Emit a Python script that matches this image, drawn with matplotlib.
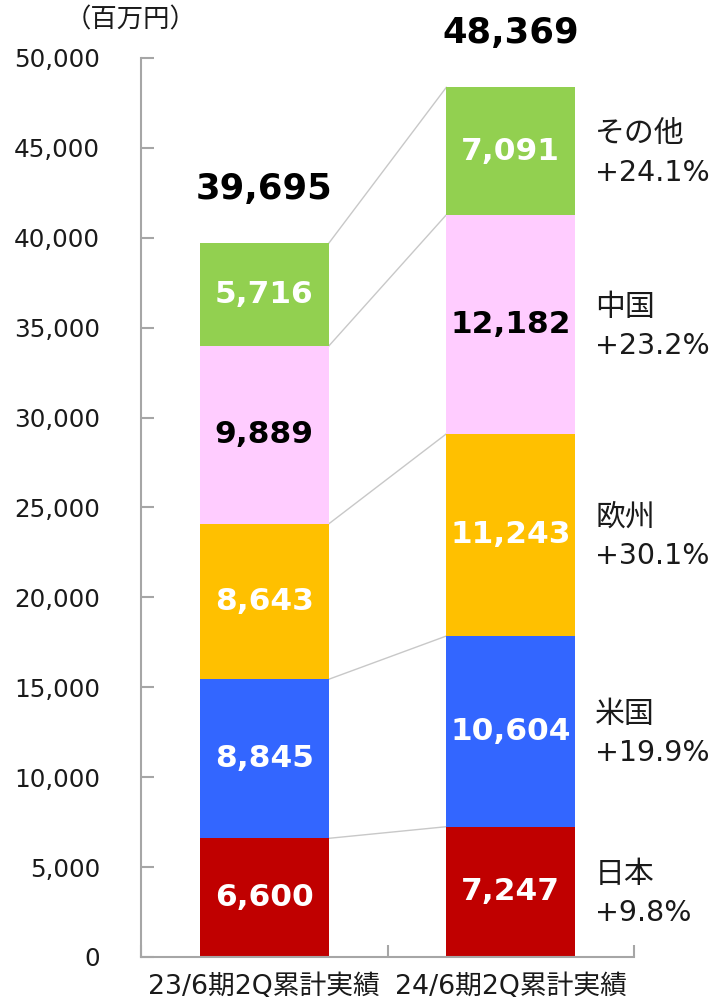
import matplotlib
matplotlib.use("Agg")
import matplotlib.pyplot as plt
import numpy as np

plt.rcParams['font.family'] = ['DejaVu Sans', 'Noto Sans CJK JP']

categories = ["23/6期2Q累計実績", "24/6期2Q累計実績"]
regions = ["日本", "米国", "欧州", "中国", "その他"]
values_2023 = [6600, 8845, 8643, 9889, 5716]
values_2024 = [7247, 10604, 11243, 12182, 7091]
totals = [39695, 48369]
growth = ["+9.8%", "+19.9%", "+30.1%", "+23.2%", "+24.1%"]
colors = ["#C00000", "#3366FF", "#FFC000", "#FFCCFF", "#92D050"]
label_colors = ["white", "white", "white", "black", "white"]
yticks = list(range(0, 50001, 5000))

fig = plt.figure(figsize=(7.23, 10.06), dpi=100)
ax = fig.add_axes([141/723, 49/1006, (634-141)/723, (957-58)/1006])

data = np.array([values_2023, values_2024])
x = np.arange(len(categories))
w = 0.523
bottoms = np.zeros(len(categories))
for i in range(len(regions)):
    ax.bar(x, data[:, i], w, bottom=bottoms, color=colors[i], linewidth=0, zorder=2)
    for j in range(len(categories)):
        ax.text(x[j], bottoms[j] + data[j, i] / 2, f"{data[j, i]:,}",
                ha='center', va='center', fontsize=22.5, fontweight='bold',
                color=label_colors[i], zorder=3)
    bottoms = bottoms + data[:, i]

# connector lines
cum1 = np.cumsum(values_2023)
cum2 = np.cumsum(values_2024)
for a, b in zip(cum1, cum2):
    ax.plot([x[0] + w/2, x[1] - w/2], [a, b], color="#C8C8C8", lw=1, zorder=1)

# totals
for j in range(len(categories)):
    ax.annotate(f"{totals[j]:,}", (x[j], bottoms[j]), xytext=(0, 32),
                textcoords='offset points', ha='center', va='baseline',
                fontsize=25.5, fontweight='bold', color='black',
                annotation_clip=False)

# right annotations
mids = cum2 - np.array(values_2024) / 2
for i in range(len(regions)):
    ax.annotate(regions[i], (1.342, mids[i]), xytext=(0, 12.5), textcoords='offset points',
                ha='left', va='center', fontsize=21.5, color='#1a1a1a', annotation_clip=False)
    ax.annotate(growth[i], (1.342, mids[i]), xytext=(0, -15.5), textcoords='offset points',
                ha='left', va='center', fontsize=20.5, color='#1a1a1a', annotation_clip=False)

ax.set_xlim(-0.5, 1.5)
ax.set_ylim(0, 50000)
ax.set_yticks(yticks)
ax.set_yticklabels([f"{v:,}" for v in yticks], fontsize=17.7, color='#1a1a1a')
ax.set_xticks(x)
ax.set_xticklabels(categories, fontsize=19.3, color='#1a1a1a')
ax.tick_params(axis='x', length=0, pad=12)
ax.set_xticks([-0.5, 0.5, 1.5], minor=True)
ax.tick_params(axis='x', which='minor', direction='in', length=9, color='#A6A6A6', width=1.5)
ax.tick_params(axis='y', direction='in', length=9, color='#A6A6A6', width=1.5, pad=29.5)
for s in ['top', 'right']:
    ax.spines[s].set_visible(False)
for s in ['left', 'bottom']:
    ax.spines[s].set_color('#A6A6A6')
    ax.spines[s].set_linewidth(1.5)

fig.text(131/723, 1 - 20/1006, "（百万円）", ha='center', va='center', fontsize=19, color='#1a1a1a')

fig.savefig("out.png", dpi=100)
